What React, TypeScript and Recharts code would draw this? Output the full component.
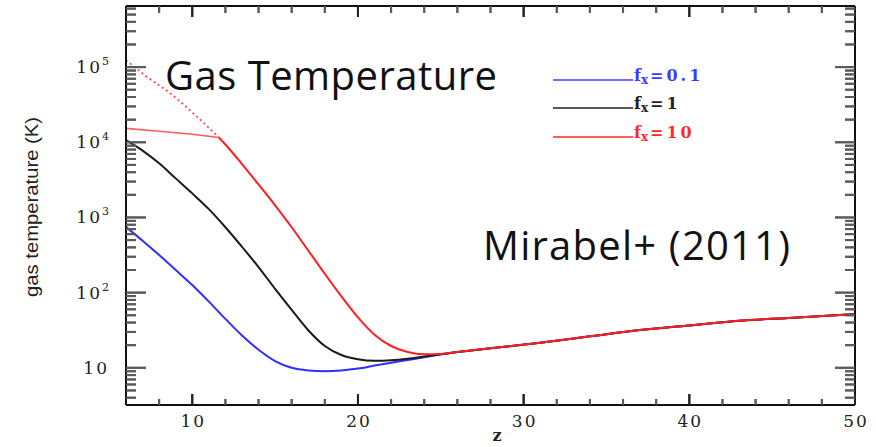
import React from 'react'
import { LineChart, Line, XAxis, YAxis, ReferenceLine } from 'recharts'

// redshift (z) and gas temperature (K)
const blueZ = [6, 7, 8, 9, 10, 11, 12, 13, 14, 15, 16, 17, 18, 19, 20, 21, 22, 23, 24, 25]
const blueT = [750, 490, 316, 200, 126, 75.9, 44.7, 26.9, 17.4, 12.3, 10.0, 9.23, 9.02, 9.23, 9.77, 10.7, 11.7, 12.7, 13.8, 15.1]

const blackZ = [6, 7, 8, 9, 10, 11, 12, 13, 14, 15, 16, 17, 18, 19, 20, 21, 22, 23, 24, 25]
const blackT = [10700, 7760, 5250, 3310, 2090, 1290, 741, 407, 219, 112, 58.9, 31.6, 19.5, 14.8, 13.0, 12.4, 12.6, 13.2, 14.1, 15.1]

const redFlatZ = [6, 8, 10, 11.6]
const redFlatT = [15300, 14000, 12800, 11600]

const redZ = [11.6, 12, 13, 14, 15, 16, 17, 18, 19, 20, 21, 22, 23, 24, 25]
const redT = [11600, 9330, 5130, 2750, 1450, 741, 363, 178, 89.1, 46.8, 27.5, 19.5, 16.2, 15.1, 15.3]

const redDotZ = [6, 7.25, 8.66, 10.06, 11.6]
const redDotT = [124000, 74500, 44900, 24300, 11600]

// all three curves converge above z ~ 26
const tailZ = [26, 28, 31, 34, 37, 40, 43, 46, 50]
const tailT = [16.2, 18.2, 21.6, 26.2, 31.8, 36.6, 42.3, 46.0, 51.6]

const xTicks = [8, 10, 12, 14, 16, 18, 20, 22, 24, 26, 28, 30, 32, 34, 36, 38, 40, 42, 44, 46, 48, 50]
const yTicks = [
    4, 5, 6, 7, 8, 9,
    10, 20, 30, 40, 50, 60, 70, 80, 90,
    100, 200, 300, 400, 500, 600, 700, 800, 900,
    1000, 2000, 3000, 4000, 5000, 6000, 7000, 8000, 9000,
    10000, 20000, 30000, 40000, 50000, 60000, 70000, 80000, 90000,
    100000, 200000, 300000, 400000, 500000, 600000,
]

const pts = (zs: number[], ts: number[]) => zs.map((z, i) => ({ z, t: ts[i] }))

const blueData = pts([...blueZ, ...tailZ], [...blueT, ...tailT])
const blackData = pts([...blackZ, ...tailZ], [...blackT, ...tailT])
const redFlatData = pts(redFlatZ, redFlatT)
const redData = pts([...redZ, ...tailZ], [...redT, ...tailT])
const redDotData = pts(redDotZ, redDotT)

const TICK_FONT = '"DejaVu Serif", serif'
const TICK_COLOR = '#5a5a5a'
const Y_DOMAIN: [number, number] = [3.2, 650000]
const X_DOMAIN: [number, number] = [6, 50]

// plot box is 729 x 399 px; used to turn tick lengths (px) into data units
const zPerPx = (X_DOMAIN[1] - X_DOMAIN[0]) / 729
const decPerPx = Math.log10(Y_DOMAIN[1] / Y_DOMAIN[0]) / 399

const isDecade = (v: number) => {
    const d = Math.floor(Math.log10(v) + 1e-9)
    return Math.abs(v / Math.pow(10, d) - 1) < 1e-6
}

const leftTick = (props: any) => {
    const { x, y, payload } = props
    const v = payload.value
    const major = isDecade(v)
    const exp = Math.round(Math.log10(v))
    return (
        <g>
            <line x1={x} y1={y} x2={x + (major ? 20 : 10)} y2={y} stroke={TICK_COLOR} strokeWidth={2} />
            {major && (
                <text x={x - 17} y={y + 6} textAnchor="end" fontFamily={TICK_FONT} fontSize={17} fill="#222">
                    <tspan letterSpacing={2}>10</tspan>
                    {exp > 1 && (
                        <tspan fontSize={11} dy={-8}>
                            {exp}
                        </tspan>
                    )}
                </text>
            )}
        </g>
    )
}

const rightTick = (props: any) => {
    const { x, y, payload } = props
    const major = isDecade(payload.value)
    return (
        <g>
            <line x1={x} y1={y} x2={x - (major ? 20 : 10)} y2={y} stroke={TICK_COLOR} strokeWidth={2} />
        </g>
    )
}

const bottomTick = (props: any) => {
    const { x, y, payload } = props
    const major = payload.value % 10 === 0
    return (
        <g>
            <line x1={x} y1={y} x2={x} y2={y - (major ? 11 : 6)} stroke={major ? '#222' : TICK_COLOR} strokeWidth={2} />
            {major && (
                <text x={x + 1} y={y + 22} textAnchor="middle" fontFamily={TICK_FONT} fontSize={17} letterSpacing={2} fill="#222">
                    {payload.value}
                </text>
            )}
        </g>
    )
}

const topTick = (props: any) => {
    const { x, y, payload } = props
    const major = payload.value % 10 === 0
    return (
        <g>
            <line x1={x} y1={y} x2={x} y2={y + (major ? 11 : 7)} stroke={major ? '#222' : TICK_COLOR} strokeWidth={2} />
        </g>
    )
}

const legend = [
    { label: '0.1', color: '#3b3bff', y: 80 },
    { label: '1', color: '#222', y: 108 },
    { label: '10', color: '#ff2a2a', y: 137 },
]

const layer: React.CSSProperties = { position: 'absolute', left: 0, top: 0 }

export default function App() {
    const axisLine = { stroke: '#111', strokeWidth: 2 }
    return (
        <div style={{ position: 'absolute', left: 0, top: 0, width: 876, height: 447, background: '#fff' }}>
            {/* titles, legend and axis titles */}
            <svg width={876} height={447} style={{ ...layer, zIndex: 0 }}>
                <text x={165} y={90} fontFamily='"Open Sans", sans-serif' fontSize={40} textLength={332} fill="#111">
                    Gas Temperature
                </text>
                <text x={483} y={260} fontFamily='"Open Sans", sans-serif' fontSize={40} textLength={307} fill="#111">
                    Mirabel+ (2011)
                </text>

                {legend.map((l) => (
                    <g key={l.label}>
                        <line x1={553} y1={l.y} x2={633} y2={l.y} stroke={l.color} strokeWidth={1.5} />
                        <text x={634} y={l.y + 1} fontFamily={TICK_FONT} fontWeight="bold" fontSize={16} fill={l.color}>
                            f
                            <tspan fontSize={12} dy={3}>x</tspan>
                            <tspan dy={-3} dx={2}>=</tspan>
                            <tspan dx={3} letterSpacing={3}>{l.label}</tspan>
                        </text>
                    </g>
                ))}

                <text
                    transform="translate(38 207) rotate(-90)"
                    textAnchor="middle"
                    fontFamily='"Liberation Sans", sans-serif'
                    fontSize={19}
                    textLength={180}
                    lengthAdjust="spacingAndGlyphs"
                    fill="#222"
                >
                    gas temperature (K)
                </text>
                <text x={497} y={441} textAnchor="middle" fontFamily={TICK_FONT} fontWeight="bold" fontSize={16} fill="#222">
                    z
                </text>
            </svg>

            {/* lower curves: same plot box, axes kept only for the scales */}
            <div style={{ ...layer, zIndex: 1 }}>
                <LineChart width={876} height={447} margin={{ top: 6, right: 21, bottom: 0, left: 0 }}>
                    <XAxis xAxisId="b" dataKey="z" type="number" domain={X_DOMAIN} allowDataOverflow height={42} tick={false} tickLine={false} axisLine={false} />
                    <YAxis yAxisId="l" type="number" scale="log" domain={Y_DOMAIN} allowDataOverflow width={126} tick={false} tickLine={false} axisLine={false} />
                    <Line xAxisId="b" yAxisId="l" data={blueData} dataKey="t" type="monotone" stroke="#2f2fff" strokeWidth={2} dot={false} isAnimationActive={false} />
                    <Line xAxisId="b" yAxisId="l" data={blackData} dataKey="t" type="monotone" stroke="#1a1a1a" strokeWidth={2} dot={false} isAnimationActive={false} />
                    <Line
                        xAxisId="b"
                        yAxisId="l"
                        data={redDotData}
                        dataKey="t"
                        type="monotone"
                        stroke="#ff4a4a"
                        strokeWidth={1.8}
                        strokeDasharray="2 3"
                        dot={false}
                        isAnimationActive={false}
                    />
                    <Line xAxisId="b" yAxisId="l" data={redFlatData} dataKey="t" type="linear" stroke="#ff5a5a" strokeWidth={1.6} dot={false} isAnimationActive={false} />
                </LineChart>
            </div>

            {/* frame with inward ticks, plus the top red curve */}
            <div style={{ ...layer, zIndex: 2 }}>
                <LineChart width={876} height={447} margin={{ top: 5, right: 20, bottom: 0, left: 0 }}>
                    <XAxis
                        xAxisId="b"
                        dataKey="z"
                        type="number"
                        domain={X_DOMAIN}
                        allowDataOverflow
                        ticks={xTicks}
                        interval={0}
                        height={42}
                        tickSize={0}
                        tickMargin={0}
                        tickLine={false}
                        axisLine={axisLine}
                        tick={bottomTick}
                    />
                    <XAxis
                        xAxisId="t"
                        orientation="top"
                        dataKey="z"
                        type="number"
                        domain={X_DOMAIN}
                        allowDataOverflow
                        ticks={xTicks}
                        interval={0}
                        height={1}
                        tickSize={0}
                        tickMargin={0}
                        tickLine={false}
                        axisLine={axisLine}
                        tick={topTick}
                    />
                    <YAxis
                        yAxisId="l"
                        type="number"
                        scale="log"
                        domain={Y_DOMAIN}
                        allowDataOverflow
                        ticks={yTicks}
                        interval={0}
                        width={126}
                        tickSize={0}
                        tickMargin={0}
                        tickLine={false}
                        axisLine={axisLine}
                        tick={leftTick}
                    />
                    <YAxis
                        yAxisId="r"
                        orientation="right"
                        type="number"
                        scale="log"
                        domain={Y_DOMAIN}
                        allowDataOverflow
                        ticks={yTicks}
                        interval={0}
                        width={1}
                        tickSize={0}
                        tickMargin={0}
                        tickLine={false}
                        axisLine={axisLine}
                        tick={rightTick}
                    />

                    {/* inward minor/major ticks, also laid down as segments through the chart scales */}
                    {yTicks.map((v) => {
                        const len = (isDecade(v) ? 20 : 10) * zPerPx
                        return (
                            <ReferenceLine
                                key={`l${v}`}
                                xAxisId="b"
                                yAxisId="l"
                                ifOverflow="visible"
                                segment={[{ x: X_DOMAIN[0], y: v }, { x: X_DOMAIN[0] + len, y: v }]}
                                stroke={TICK_COLOR}
                                strokeWidth={2}
                            />
                        )
                    })}
                    {yTicks.map((v) => {
                        const len = (isDecade(v) ? 20 : 10) * zPerPx
                        return (
                            <ReferenceLine
                                key={`r${v}`}
                                xAxisId="b"
                                yAxisId="l"
                                ifOverflow="visible"
                                segment={[{ x: X_DOMAIN[1] - len, y: v }, { x: X_DOMAIN[1], y: v }]}
                                stroke={TICK_COLOR}
                                strokeWidth={2}
                            />
                        )
                    })}
                    {xTicks.map((v) => {
                        const major = v % 10 === 0
                        const f = Math.pow(10, (major ? 11 : 6) * decPerPx)
                        return (
                            <ReferenceLine
                                key={`b${v}`}
                                xAxisId="b"
                                yAxisId="l"
                                ifOverflow="visible"
                                segment={[{ x: v, y: Y_DOMAIN[0] }, { x: v, y: Y_DOMAIN[0] * f }]}
                                stroke={major ? '#222' : TICK_COLOR}
                                strokeWidth={2}
                            />
                        )
                    })}
                    {xTicks.map((v) => {
                        const major = v % 10 === 0
                        const f = Math.pow(10, (major ? 11 : 7) * decPerPx)
                        return (
                            <ReferenceLine
                                key={`t${v}`}
                                xAxisId="b"
                                yAxisId="l"
                                ifOverflow="visible"
                                segment={[{ x: v, y: Y_DOMAIN[1] / f }, { x: v, y: Y_DOMAIN[1] }]}
                                stroke={major ? '#222' : TICK_COLOR}
                                strokeWidth={2}
                            />
                        )
                    })}

                    <Line xAxisId="b" yAxisId="l" data={redData} dataKey="t" type="monotone" stroke="#ff1f1f" strokeWidth={2} dot={false} isAnimationActive={false} />
                </LineChart>
            </div>
        </div>
    )
}
